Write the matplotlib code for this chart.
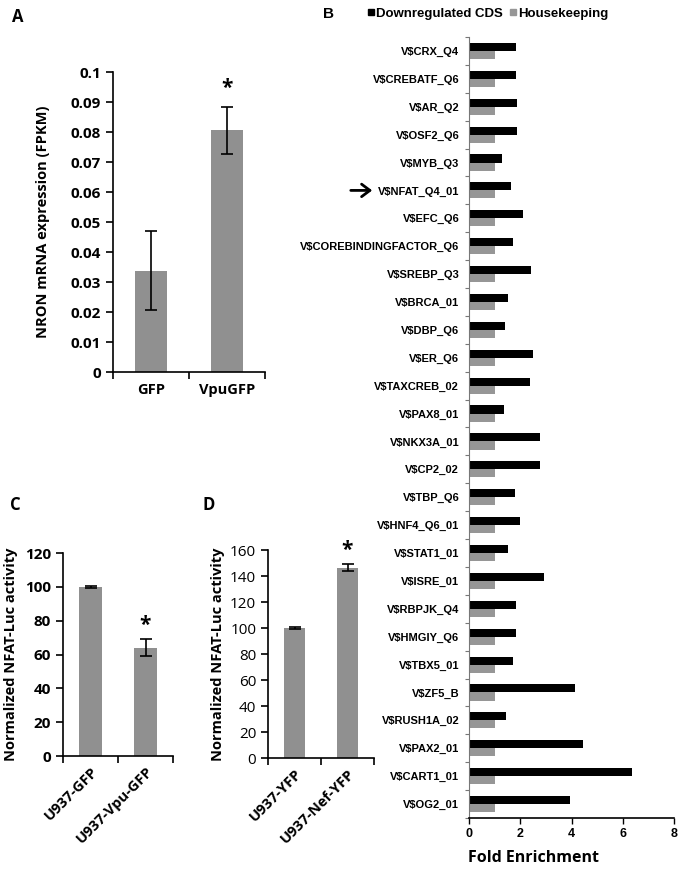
import numpy as np
import matplotlib.pyplot as plt
from matplotlib.lines import Line2D
from matplotlib.patches import FancyArrowPatch

# panel A data
a_groups = ["GFP", "VpuGFP"]
a_vals = [0.0338, 0.0805]
a_err = [0.0133, 0.0079]

# panel B data
b_motifs = ["V$CRX_Q4", "V$CREBATF_Q6", "V$AR_Q2", "V$OSF2_Q6", "V$MYB_Q3",
            "V$NFAT_Q4_01", "V$EFC_Q6", "V$COREBINDINGFACTOR_Q6", "V$SREBP_Q3",
            "V$BRCA_01", "V$DBP_Q6", "V$ER_Q6", "V$TAXCREB_02", "V$PAX8_01",
            "V$NKX3A_01", "V$CP2_02", "V$TBP_Q6", "V$HNF4_Q6_01", "V$STAT1_01",
            "V$ISRE_01", "V$RBPJK_Q4", "V$HMGIY_Q6", "V$TBX5_01", "V$ZF5_B",
            "V$RUSH1A_02", "V$PAX2_01", "V$CART1_01", "V$OG2_01"]
b_down = [1.83, 1.83, 1.89, 1.89, 1.29, 1.63, 2.11, 1.73, 2.43, 1.51, 1.40,
          2.48, 2.38, 1.35, 2.76, 2.76, 1.78, 2.00, 1.51, 2.93, 1.83, 1.83,
          1.73, 4.12, 1.46, 4.43, 6.38, 3.95]
b_house = [1.0] * len(b_motifs)

# panel C data
c_groups = ["U937-GFP", "U937-Vpu-GFP"]
c_vals = [100, 64]
c_err = [0.4, 5]

# panel D data
d_groups = ["U937-YFP", "U937-Nef-YFP"]
d_vals = [100, 146.5]
d_err = [0.4, 3]

W, H = 682, 872
fig = plt.figure(figsize=(W / 100, H / 100), dpi=100)

def box(l, t, r, b):
    return [l / W, 1 - b / H, (r - l) / W, (b - t) / H]

bar_gray = "#909090"
calib = ["Open Sans", "DejaVu Sans"]
arial = ["Liberation Sans", "DejaVu Sans"]


def small_bar(ax, groups, vals, err, ymax, ystep, tick_bold, rot):
    x = np.arange(len(groups))
    ax.bar(x, vals, width=0.41, color=bar_gray, yerr=err, capsize=4,
           error_kw=dict(elinewidth=1.2, capthick=1.2, ecolor="black"))
    ax.set_xlim(-0.5, len(groups) - 0.5)
    ax.set_ylim(0, ymax)
    ax.set_yticks(np.arange(0, ymax + ystep / 2, ystep))
    ax.set_xticks(np.arange(len(groups) + 1) - 0.5, minor=True)
    ax.set_xticks(x)
    ax.tick_params(axis="x", which="major", length=0, pad=8 if rot == 0 else 6)
    ax.tick_params(axis="x", which="minor", length=5, width=1.2, direction="out")
    ax.tick_params(axis="y", length=5, width=1.2, direction="out")
    for s in ["top", "right"]:
        ax.spines[s].set_visible(False)
    for s in ["left", "bottom"]:
        ax.spines[s].set_linewidth(1.2)
    w = "bold" if tick_bold else "normal"
    if rot:
        ax.set_xticklabels(groups, rotation=45, ha="right", rotation_mode="anchor",
                           family=calib, fontsize=10.5, fontweight="bold")
    else:
        ax.set_xticklabels(groups, family=calib, fontsize=10.5, fontweight="bold")
    for lab in ax.get_yticklabels():
        lab.set_family(calib)
        lab.set_fontsize(11)
        lab.set_fontweight(w)


# ---- A
axA = fig.add_axes(box(113, 72, 265, 372))
small_bar(axA, a_groups, a_vals, a_err, 0.1, 0.01, True, 0)
axA.set_yticklabels(["0"] + ["%.2g" % v for v in np.arange(0.01, 0.1001, 0.01)])
axA.set_ylabel("NRON mRNA expression (FPKM)", family=calib, fontsize=10.5,
               fontweight="bold", labelpad=15)
axA.text(1, a_vals[1] + a_err[1] + 0.0025, "*", ha="center", va="bottom",
         fontsize=15, fontweight="bold", family=calib)
fig.text(12 / W, 1 - 22 / H, "A", fontsize=12, fontweight="bold", family=calib)

# ---- C
axC = fig.add_axes(box(63, 553, 173, 756))
small_bar(axC, c_groups, c_vals, c_err, 120, 20, True, 45)
axC.set_ylabel("Normalized NFAT-Luc activity", family=calib, fontsize=10.5,
               fontweight="bold", labelpad=5)
axC.text(1, c_vals[1] + c_err[1] + 2, "*", ha="center", va="bottom",
         fontsize=15, fontweight="bold", family=calib)
fig.text(10 / W, 1 - 510 / H, "C", fontsize=12, fontweight="bold", family=calib)

# ---- D
axD = fig.add_axes(box(268, 550, 374, 758))
small_bar(axD, d_groups, d_vals, d_err, 160, 20, False, 45)
axD.set_ylabel("Normalized NFAT-Luc activity", family=calib, fontsize=10.5,
               fontweight="bold", labelpad=4)
axD.text(1, d_vals[1] + d_err[1] + 2, "*", ha="center", va="bottom",
         fontsize=15, fontweight="bold", family=calib)
fig.text(203 / W, 1 - 510 / H, "D", fontsize=12, fontweight="bold", family=calib)

# ---- B
axB = fig.add_axes(box(469, 37, 674, 818))
y = np.arange(len(b_motifs))
bh = 0.29
axB.barh(y - bh / 2, b_down, height=bh, color="black")
axB.barh(y + bh / 2, b_house, height=bh, color="#969696")
axB.set_ylim(len(b_motifs) - 0.5, -0.5)
axB.set_xlim(0, 8)
axB.set_yticks(y)
axB.set_yticklabels(b_motifs, family=arial, fontsize=8, fontweight="bold")
axB.set_yticks(np.arange(len(b_motifs) + 1) - 0.5, minor=True)
axB.tick_params(axis="y", which="major", length=0, pad=7)
axB.tick_params(axis="y", which="minor", length=3, width=0.8, color="#777777")
axB.set_xticks([0, 2, 4, 6, 8])
axB.tick_params(axis="x", length=4, width=1, direction="out")
for lab in axB.get_xticklabels():
    lab.set_family(arial)
    lab.set_fontsize(9)
    lab.set_fontweight("bold")
for s in ["top", "right"]:
    axB.spines[s].set_visible(False)
axB.spines["left"].set_color("#777777")
axB.spines["left"].set_linewidth(0.8)
axB.spines["bottom"].set_linewidth(1.2)
fig.text(533 / W, 1 - 858 / H, "Fold Enrichment", ha="center", va="center",
         family=calib, fontsize=11.5, fontweight="bold")
fig.text(323 / W, 1 - 14 / H, "B", ha="left", va="center",
         family=arial, fontsize=11, fontweight="bold")
handles = [Line2D([], [], marker="s", color="black", ls="", markersize=5),
           Line2D([], [], marker="s", color="#969696", ls="", markersize=5)]
fig.legend(handles, ["Downregulated CDS", "Housekeeping"], loc="center",
           bbox_to_anchor=(487 / W, 1 - 14 / H), ncol=2, frameon=False,
           handletextpad=0.0, columnspacing=0.4, handlelength=0.8,
           prop=dict(family=arial, size=9.5, weight="bold"))

# arrow pointing at the NFAT motif label
idx = b_motifs.index("V$NFAT_Q4_01")
arrow_y = axB.transData.transform((0, idx))[1]
fig.patches.append(FancyArrowPatch(
    (348, arrow_y), (375, arrow_y), transform=None,
    arrowstyle="->,head_width=3,head_length=4",
    mutation_scale=1.5, lw=2, color="black"))

fig.savefig("out.png", dpi=100)
